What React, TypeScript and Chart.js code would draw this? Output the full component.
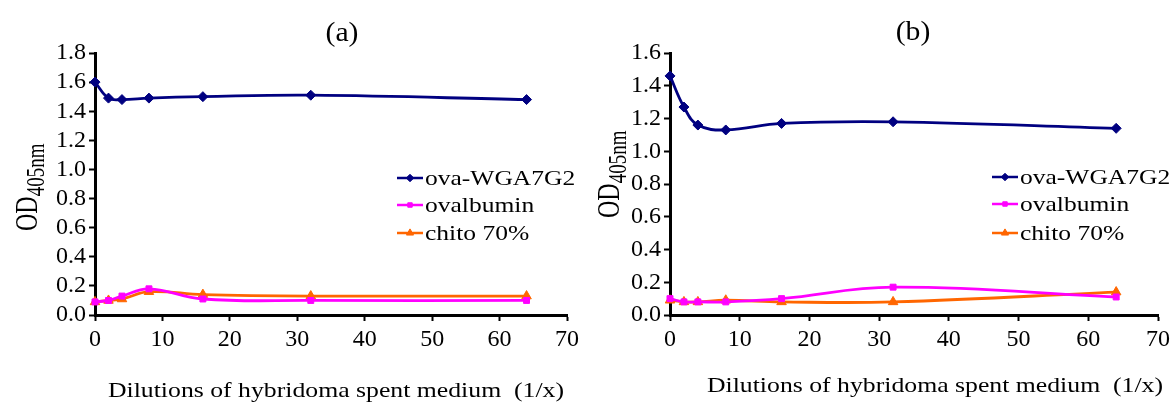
import React, { useEffect, useRef } from "react";
import { Chart, registerables } from "chart.js";
import { drawPoint } from "chart.js/helpers";

Chart.register(...registerables);

// ---------- data ----------
const dilutions = [0, 2, 4, 8, 16, 32, 64];
const seriesNames = ["ova-WGA7G2", "ovalbumin", "chito 70%"];

const ovaWGA_a = [1.6, 1.49, 1.48, 1.49, 1.5, 1.51, 1.48];
const ovalbumin_a = [0.09, 0.1, 0.13, 0.18, 0.11, 0.1, 0.1];
const chito_a = [0.09, 0.1, 0.11, 0.16, 0.14, 0.13, 0.13];

const ovaWGA_b = [1.46, 1.27, 1.16, 1.13, 1.17, 1.18, 1.14];
const ovalbumin_b = [0.1, 0.08, 0.08, 0.08, 0.1, 0.17, 0.11];
const chito_b = [0.09, 0.08, 0.08, 0.09, 0.08, 0.08, 0.14];

const xTicksMax = 70;
const xStep = 10;
const yStep = 0.2;
const xTitle = "Dilutions of hybridoma spent medium  (1/x)";

// ---------- styles ----------
const FONT = '"Liberation Serif"';
const COLORS = ["#000080", "#ff00ff", "#ff6600"];
const POINT_STYLES = ["rectRot", "rect", "triangle"];
const POINT_RADII = [5, 4.2, 5.5];
const W = 588;
const H = 405;

function makeDatasets(values: number[][]) {
  return values.map((vals, i) => ({
    label: seriesNames[i],
    data: dilutions.map((x, j) => ({ x, y: vals[j] })),
    borderColor: COLORS[i],
    backgroundColor: COLORS[i],
    borderWidth: 2.8,
    pointStyle: POINT_STYLES[i],
    pointRadius: POINT_RADII[i],
    pointBorderWidth: 1,
    tension: 0.4,
    clip: false as any,
  }));
}

function stretchedText(
  ctx: CanvasRenderingContext2D,
  text: string,
  x: number,
  y: number,
  size: number,
  align: CanvasTextAlign,
  baseline: CanvasTextBaseline,
  sx: number
) {
  ctx.save();
  ctx.translate(x, y);
  ctx.scale(sx, 1);
  ctx.font = `${size}px ${FONT}`;
  ctx.fillStyle = "#000";
  ctx.textAlign = align;
  ctx.textBaseline = baseline;
  ctx.fillText(text, 0, 0);
  ctx.restore();
}

const annotPlugin = {
  id: "annot",
  afterDraw(chart: any, _args: any, o: any) {
    const ctx: CanvasRenderingContext2D = chart.ctx;
    // panel title
    stretchedText(ctx, o.title, o.titleX, o.titleY, 27, "center", "middle", 1.1);
    // x axis title
    stretchedText(ctx, xTitle, o.xTitleX, o.xTitleY, 22, "center", "alphabetic", 1.17);
    // y axis title with subscript
    ctx.save();
    ctx.translate(o.yTitleX, o.yTitleY);
    ctx.scale(1.3, 1);
    ctx.rotate(-Math.PI / 2);
    ctx.fillStyle = "#000";
    ctx.textAlign = "left";
    ctx.textBaseline = "alphabetic";
    ctx.font = `24px ${FONT}`;
    ctx.fillText("OD", 0, 0);
    const w = ctx.measureText("OD").width;
    ctx.font = `19px ${FONT}`;
    ctx.fillText("405nm", w, 5);
    ctx.restore();
    // legend
    chart.data.datasets.forEach((ds: any, i: number) => {
      const y = o.legendRows[i];
      const x = o.legendX;
      ctx.save();
      ctx.strokeStyle = ds.borderColor;
      ctx.lineWidth = 2.5;
      ctx.beginPath();
      ctx.moveTo(x, y);
      ctx.lineTo(x + 26, y);
      ctx.stroke();
      ctx.fillStyle = ds.backgroundColor;
      ctx.strokeStyle = ds.borderColor;
      ctx.lineWidth = 1;
      drawPoint(ctx, { pointStyle: ds.pointStyle, radius: ds.pointRadius * 0.75, rotation: 0, borderWidth: 1 } as any, x + 13, y);
      ctx.restore();
      stretchedText(ctx, ds.label, x + 28, y + 1, 22, "left", "middle", 1.16);
    });
  },
};

function buildConfig(p: any): any {
  const tickFont = { family: FONT, size: 24 };
  return {
    type: "line",
    data: { datasets: makeDatasets(p.values) },
    plugins: [annotPlugin],
    options: {
      animation: false,
      responsive: false,
      events: [],
      layout: { padding: { top: 53, right: W - p.right, bottom: 0, left: 0 } },
      plugins: {
        legend: { display: false },
        title: { display: false },
        tooltip: { enabled: false },
        annot: p.annot,
      },
      scales: {
        x: {
          type: "linear",
          min: 0,
          max: xTicksMax,
          afterFit(scale: any) {
            scale.height = H - 315;
          },
          ticks: {
            stepSize: xStep,
            color: "#000",
            font: tickFont,
            padding: 4,
            maxRotation: 0,
            autoSkip: false,
          },
          grid: {
            drawOnChartArea: false,
            drawTicks: true,
            tickLength: 6,
            tickWidth: 2,
            tickColor: "#000",
          },
          border: { display: true, color: "#000", width: 3 },
        },
        y: {
          min: 0,
          max: p.yMax,
          afterFit(scale: any) {
            scale.width = p.left;
          },
          ticks: {
            stepSize: yStep,
            color: "#000",
            font: tickFont,
            padding: 3,
            autoSkip: false,
            callback: (v: number) => Number(v).toFixed(1),
          },
          grid: {
            drawOnChartArea: false,
            drawTicks: true,
            tickLength: 6,
            tickWidth: 2,
            tickColor: "#000",
          },
          border: { display: true, color: "#000", width: 3 },
        },
      },
    },
  };
}

const panelA = {
  values: [ovaWGA_a, ovalbumin_a, chito_a],
  left: 95,
  right: 567,
  yMax: 1.8,
  annot: {
    title: "(a)",
    titleX: 342,
    titleY: 34,
    xTitleX: 336,
    xTitleY: 397,
    yTitleX: 37,
    yTitleY: 231,
    legendX: 397,
    legendRows: [178, 205, 233],
  },
};

const panelB = {
  values: [ovaWGA_b, ovalbumin_b, chito_b],
  left: 82,
  right: 570,
  yMax: 1.6,
  annot: {
    title: "(b)",
    titleX: 325,
    titleY: 33,
    xTitleX: 347,
    xTitleY: 392,
    yTitleX: 31,
    yTitleY: 218,
    legendX: 404,
    legendRows: [177, 204, 233],
  },
};

function Panel({ cfg, left }: { cfg: any; left: number }) {
  const ref = useRef<HTMLCanvasElement>(null);
  useEffect(() => {
    let chart: any = null;
    let cancelled = false;
    const make = () => {
      if (cancelled || !ref.current) return;
      chart = new Chart(ref.current, buildConfig(cfg));
    };
    Promise.all([
      document.fonts.load(`24px ${FONT}`),
      document.fonts.load(`18px ${FONT}`),
    ])
      .catch(() => null)
      .then(make);
    return () => {
      cancelled = true;
      if (chart) chart.destroy();
    };
  }, []);
  return (
    <canvas
      ref={ref}
      width={W}
      height={H}
      style={{ position: "absolute", left, top: 0, width: W, height: H }}
    />
  );
}

export default function App() {
  return (
    <div
      style={{
        position: "fixed",
        left: 0,
        top: 0,
        width: 1176,
        height: 405,
        background: "#fff",
        overflow: "hidden",
      }}
    >
      <Panel cfg={panelA} left={0} />
      <Panel cfg={panelB} left={588} />
    </div>
  );
}
